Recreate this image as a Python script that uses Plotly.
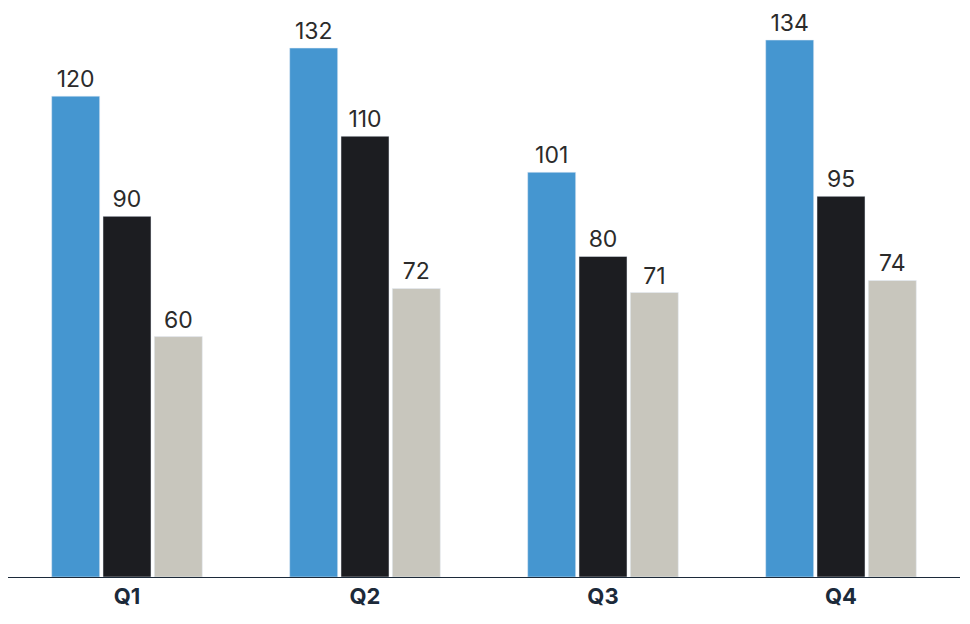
import plotly.graph_objects as go

categories = ["Q1", "Q2", "Q3", "Q4"]
series_a = [120, 132, 101, 134]
series_b = [90, 110, 80, 95]
series_c = [60, 72, 71, 74]
colors = ["#4596d0", "#1c1d21", "#c8c6bd"]

fig = go.Figure()
for name, vals, col in [("A", series_a, colors[0]), ("B", series_b, colors[1]), ("C", series_c, colors[2])]:
    fig.add_trace(go.Bar(x=categories, y=vals, name=name, marker_color=col,
                         text=[str(v) for v in vals], textposition="outside",
                         textfont=dict(family="Inter", size=23, color="#2b2b2b"),
                         cliponaxis=False))

fig.update_layout(
    width=970, height=624, barmode="group", bargap=0.353, bargroupgap=0.065,
    showlegend=False, plot_bgcolor="white", paper_bgcolor="white",
    margin=dict(l=0, r=18, t=0, b=55),
    xaxis=dict(showline=True, linecolor="#1c2a3a", linewidth=1, ticks="",
               tickfont=dict(family="Inter", size=22, color="#1c2a3a", weight="bold")),
    yaxis=dict(visible=False, range=[0, 142]),
)
fig.write_html("out.html")
